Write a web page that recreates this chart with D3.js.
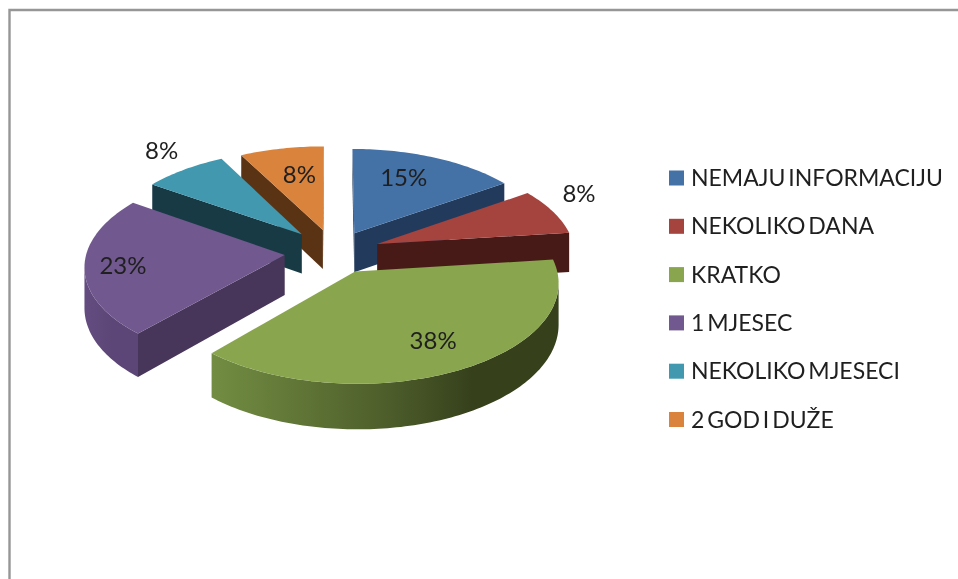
<!DOCTYPE html>
<html>
<head>
<meta charset="utf-8">
<script src="https://cdn.jsdelivr.net/npm/d3@7"></script>
<style>
html,body{margin:0;padding:0;background:#fff;overflow:hidden}
svg{display:block;filter:blur(0.45px)}
text{font-family:Lato,"Open Sans",sans-serif;fill:#1f1f1f}
</style>
</head>
<body>
<svg id="chart" width="958" height="579"></svg>
<script>
// ---- data (unrounded shares; labels show them rounded) ----
const categories = ["NEMAJU INFORMACIJU","NEKOLIKO DANA","KRATKO","1 MJESEC","NEKOLIKO MJESECI","2 GOD I DUŽE"];
const percents   = [15.38, 7.69, 38.46, 23.08, 7.69, 7.69];
const explosion  = [0.225, 0.235, 0.225, 0.25, 0.25, 0.24];   // share of the radius each slice is pulled out

// ---- styling ----
const topColors  = ["#4471a6","#a5433f","#89a54e","#71588f","#4198af","#d9833c"];
const faceColors = ["#223b5c","#471a17","#37421c","#47365a","#183a45","#5a3315"];
const rimLight   = ["#223b5c","#471a17","#728d42","#644c80","#183a45","#5a3315"];
const rimMid     = ["#223b5c","#471a17","#4e5e2b","#5c4677","#183a45","#5a3315"];
const rimDark    = ["#223b5c","#471a17","#36411c","#5c4677","#183a45","#5a3315"];
const labelRadius = [0.69, 1.23, 0.735, 0.81, 1.27, 0.65];
const labelTurn   = [-4, -6, -1, -1, 2, 2];

const W = 958, H = 579;
const svg = d3.select("#chart");
const defs = svg.append("defs");

// frame
const frame = {x: 9.5, y: 10, stroke: "#969696"};
svg.append("path")
  .attr("d", d3.line()([[frame.x, H + 5], [frame.x, frame.y], [W + 5, frame.y]]))
  .attr("fill", "none").attr("stroke", frame.stroke).attr("stroke-width", 2.4);

// ---- pie geometry through d3.pie and a perspective projection ----
const R = 198, depth = 40, camera = 1940, tilt = 0.487, cx = 334, cy = 252;
const radius = d3.scaleLinear().domain([0, 1]).range([0, R]);
const arcs = d3.pie().sort(null).value(d => d)(percents);

function ground(i, angle, r) {
  const mid = (arcs[i].startAngle + arcs[i].endAngle) / 2;
  const e = radius(explosion[i]);
  return [e * Math.sin(mid) + r * Math.sin(angle), e * Math.cos(mid) + r * Math.cos(angle)];
}
function project(g, z) {
  const s = camera / (camera + g[1]);
  return [cx + g[0] * s, cy - g[1] * tilt * s + z * s];
}
const line = d3.line();
const closed = pts => line(pts) + "Z";

const order = d3.range(percents.length).sort((a, b) => ground(b, 0, 0)[1] - ground(a, 0, 0)[1]);

const slices = svg.selectAll("g.slice").data(order).join("g").attr("class", "slice");

slices.each(function (i) {
  const g = d3.select(this);
  const a = arcs[i];
  const steps = Math.max(12, Math.ceil((a.endAngle - a.startAngle) / 0.02));
  const angles = d3.range(steps + 1).map(d3.scaleLinear().domain([0, steps]).range([a.startAngle, a.endAngle]));
  const apexG = ground(i, 0, 0);
  const rimG = angles.map(t => ground(i, t, R));
  const apexTop = project(apexG, 0), apexBot = project(apexG, depth);
  const rimTop = rimG.map(p => project(p, 0));
  const rimBot = rimG.map(p => project(p, depth));
  const n = rimTop.length - 1;

  // straight cut faces
  [[apexTop, rimTop[0], rimBot[0], apexBot],
   [rimTop[n], apexTop, apexBot, rimBot[n]]]
    .filter(q => d3.polygonArea(q) > 0)
    .forEach(q => g.append("path").attr("d", closed(q)).attr("fill", faceColors[i]));

  // curved rim, only the part that faces the viewer
  const front = d3.range(n).filter(k => d3.polygonArea([rimTop[k], rimTop[k + 1], rimBot[k + 1], rimBot[k]]) > 0);
  if (front.length) {
    const lo = d3.min(front), hi = d3.max(front) + 1;
    const t = rimTop.slice(lo, hi + 1), b = rimBot.slice(lo, hi + 1);
    const xs = d3.extent(t.concat(b), p => p[0]);
    const id = "rim" + i;
    const gr = defs.append("linearGradient").attr("id", id)
      .attr("gradientUnits", "userSpaceOnUse")
      .attr("x1", xs[0]).attr("x2", xs[1]).attr("y1", 0).attr("y2", 0);
    gr.append("stop").attr("offset", 0).attr("stop-color", rimLight[i]);
    gr.append("stop").attr("offset", 0.5).attr("stop-color", rimMid[i]);
    gr.append("stop").attr("offset", 0.75).attr("stop-color", rimDark[i]);
    gr.append("stop").attr("offset", 1).attr("stop-color", rimDark[i]);
    g.append("path").attr("d", closed(t.concat(b.slice().reverse()))).attr("fill", `url(#${id})`);
  }

  // top surface
  g.append("path").attr("d", closed([apexTop].concat(rimTop))).attr("fill", topColors[i]);
});

// ---- percentage labels ----
svg.selectAll("text.pct").data(d3.range(percents.length)).join("text")
  .attr("class", "pct")
  .attr("text-anchor", "middle")
  .attr("dominant-baseline", "central")
  .attr("font-size", 24)
  .attr("dy", -1.5)
  .attr("transform", i => {
    const mid = (arcs[i].startAngle + arcs[i].endAngle) / 2 + labelTurn[i] * Math.PI / 180;
    const p = project(ground(i, mid, radius(labelRadius[i])), 0);
    return `translate(${p[0]},${p[1]})`;
  })
  .text(i => Math.round(percents[i]) + "%");

// ---- legend ----
const rows = d3.scalePoint().domain(categories).range([178, 419.5]);
const swatch = 15, legendX = 669;
const legend = svg.selectAll("g.legend").data(categories).join("g")
  .attr("class", "legend")
  .attr("transform", d => `translate(${legendX},${rows(d)})`);
legend.append("rect").attr("x", 0).attr("y", -swatch / 2).attr("width", swatch).attr("height", swatch)
  .attr("fill", (d, i) => topColors[i]);
legend.append("text").attr("x", swatch + 7).attr("dy", -1).attr("dominant-baseline", "central")
  .attr("font-size", 23).attr("word-spacing", -3).text(d => d);
</script>
</body>
</html>
